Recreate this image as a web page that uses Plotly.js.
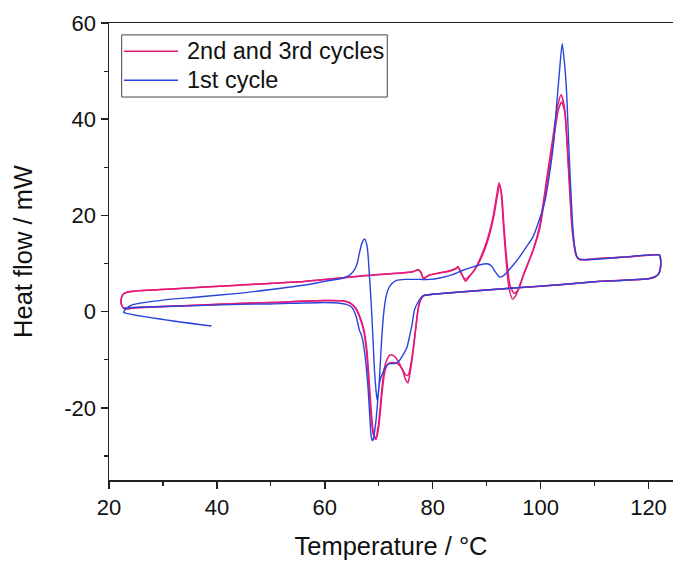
<!DOCTYPE html>
<html>
<head>
<meta charset="utf-8">
<script src="https://cdn.plot.ly/plotly-3.0.1.min.js"></script>
<style>html,body{margin:0;padding:0;background:#fff;}#chart{width:673px;height:563px;}</style>
</head>
<body>
<div id="chart"></div>
<script>
// 2nd cycle (heating on upper branch, cooling on lower branch)
const cycle2Temp = [22.3,22.3,22.7,23.5,31.5,44,55.3,60,67.7,76.3,77.3,77.8,78.3,78.8,79.4,83.1,84.3,84.7,85.3,85.8,86.1,86.8,87.8,88.7,89.9,91.2,91.9,92.3,92.7,93.1,93.5,94.1,94.8,95.5,96.7,98.6,99.8,101.1,102.3,103.2,103.8,104.4,105.1,105.7,106.1,106.6,107.3,110,115,121,122.0,122.2,122.2,121.9,121.3,120.2,110,103.5,95,90,80,78.5,78.0,77.6,77.3,76.9,76.5,76.0,75.6,75.4,75.0,74.5,73.6,72.8,72.1,71.5,71.0,70.5,69.9,69.4,69.0,68.6,68.2,67.7,67.2,66.4,65.6,64.6,63.5,60,50,44,35,25,22.9,22.3];
const cycle2Heat = [1.5,2.8,3.7,4.1,4.7,5.5,6.2,6.7,7.5,8.3,8.7,8.2,6.9,7.2,7.6,8.5,9.0,9.4,8.0,6.8,6.3,7.3,8.8,10.8,14.2,19.8,24.5,26.8,24.5,18,12.1,5.2,2.6,3.6,7.3,12.8,17.7,27.4,36.4,43.0,45.1,42.6,30.9,19.1,14.5,11.6,10.8,11.0,11.3,11.8,11.8,11.2,9.0,7.9,7.3,6.9,6.2,5.6,4.9,4.5,3.6,3.4,3.0,2.0,0.5,-3,-7,-11.4,-14.0,-14.8,-14.2,-12.5,-10.3,-9.2,-9.0,-10,-12,-17,-23.9,-26.3,-25.5,-22,-15.6,-8,-4,-1.0,0.8,1.8,2.2,2.3,1.9,1.7,1.3,0.8,0.6,1.5];

// 3rd cycle
const cycle3Temp = [22.3,22.3,22.7,23.5,31.5,44,55.3,60,67.7,76.3,77.3,77.8,78.3,78.8,79.4,83.1,84.3,84.7,85.3,85.8,86.2,86.9,87.9,88.8,90.0,91.3,92.0,92.4,92.8,93.2,93.6,94.3,95.1,95.8,96.9,98.7,99.9,101.2,102.4,103.3,103.9,104.5,105.2,105.8,106.2,106.7,107.4,110,115,121,122.0,122.2,122.2,121.9,121.3,120.2,110,103.5,95,90,80,78.5,78.0,77.6,77.3,76.9,76.5,76.0,75.6,75.3,74.9,74.4,73.6,72.9,72.2,71.6,71.1,70.6,70.0,69.5,69.1,68.7,68.3,67.8,67.3,66.5,65.7,64.7,63.5,60,50,44,35,25,22.9,22.3];
const cycle3Heat = [1.5,2.8,3.7,4.1,4.7,5.5,6.2,6.7,7.5,8.3,8.7,8.2,6.9,7.2,7.6,8.4,8.9,9.2,7.9,7.0,6.8,7.5,8.9,10.7,14.0,19.6,24.2,26.4,24.2,18,12.3,5.6,3.8,4.4,7.8,13.0,17.6,26.8,35.6,42.0,43.6,41.4,30.0,18.6,14.2,11.5,10.8,11.0,11.3,11.8,11.8,11.2,9.0,7.9,7.3,6.9,6.2,5.6,4.9,4.5,3.6,3.4,3.0,2.0,0.5,-3,-6.8,-10.6,-12.8,-13.3,-13.0,-12.0,-10.9,-10.6,-10.6,-11.0,-12.6,-17,-24.0,-26.6,-25.8,-22,-15.6,-8,-4,-1.0,0.8,1.8,2.2,2.3,1.9,1.7,1.3,0.8,0.6,1.5];

// 1st cycle (starts with cooling from 39 °C to 23 °C)
const cycle1Temp = [39.0,22.7,23.0,23.6,24.6,30,36,44,50,56.6,60,63.4,64.6,65.5,66.0,66.4,66.9,67.4,67.8,68.0,68.3,68.6,68.9,69.2,69.5,69.7,70.0,70.2,70.5,70.8,71.2,71.7,72.4,73.3,75,77.6,79.5,81.3,83.7,85.6,87.5,89.5,90.3,90.9,91.6,92.4,93.0,93.6,95,96.1,97.4,98.6,99.8,100.8,101.7,102.4,102.9,103.5,104.0,104.4,104.8,105.1,105.4,105.7,106.0,106.4,106.9,108.5,115,122.0,122.2,122.2,121.9,121.3,120.2,110,103.5,95,90,80,78.5,77.9,77.3,76.6,76.2,75.7,75.2,74.5,73.8,73.0,72.0,71.3,70.9,70.2,69.5,69.0,68.8,68.6,68.3,68.0,67.4,66.9,66.4,65.8,65.0,64.0,62.5,60,50,44,35,25,22.6];
const cycle1Heat = [-3.0,-0.1,0.4,1.0,1.5,2.4,3.0,3.8,4.6,5.6,6.3,7.0,7.6,8.7,10.0,12.1,14.3,15.1,13.8,12.0,7,1.7,-5,-12.1,-16.5,-18.4,-16,-12.5,-6.5,-1.7,2.2,4.5,5.8,6.5,6.7,6.7,6.7,7.0,7.7,8.6,9.3,9.9,9.9,9.5,8.3,7.2,7.4,8.0,9.8,11.4,13.5,15.6,19.2,23,29.0,35,42,50,55.7,52,46.0,38,30,23,17,12.8,11.1,10.8,11.3,11.8,11.2,9.0,7.9,7.3,6.9,6.2,5.6,4.9,4.5,3.6,3.4,3.0,2.0,0.3,-2.5,-5.2,-7.5,-9.0,-10.2,-10.8,-10.8,-11.4,-12.3,-14.5,-22.5,-26.5,-26.8,-26,-21,-15.6,-8.7,-5.3,-3.8,-1.0,0.9,1.5,1.8,1.9,1.6,1.5,1.2,0.9,0.7];

const seriesNames = ['2nd and 3rd cycles', '1st cycle'];
const xTickVals = [20, 40, 60, 80, 100, 120];
const xTickText = ['20', '40', '60', '80', '100', '120'];
const yTickVals = [-20, 0, 20, 40, 60];
const yTickText = ['-20', '0', '20', '40', '60'];

const RED = '#E41A78';
const BLUE = '#2B44DA';
const seriesColors = [RED, BLUE];

const traces = [
  {x: cycle2Temp, y: cycle2Heat, type: 'scatter', mode: 'lines', name: seriesNames[0],
   line: {color: RED, width: 1.5, shape: 'spline', smoothing: 0.6}, showlegend: false},
  {x: cycle3Temp, y: cycle3Heat, type: 'scatter', mode: 'lines', name: seriesNames[0],
   line: {color: RED, width: 1.5, shape: 'spline', smoothing: 0.6}, showlegend: false},
  {x: cycle1Temp, y: cycle1Heat, type: 'scatter', mode: 'lines', name: seriesNames[1],
   line: {color: BLUE, width: 1.4, shape: 'spline', smoothing: 0.6}, showlegend: false}
];

const FONT = 'Liberation Sans, Arial, sans-serif';

// Legend box drawn in paper coordinates
const legendBox = {x0: 0.0225, x1: 0.4934, y0: 0.838, y1: 0.974};
const legendRowsY = [0.938, 0.875];
const legendLineX = [0.0266, 0.1223];
const legendTextX = 0.1348;

const shapes = [
  {type: 'rect', xref: 'paper', yref: 'paper', x0: legendBox.x0, x1: legendBox.x1, y0: legendBox.y0, y1: legendBox.y1,
   line: {color: '#444', width: 1}, fillcolor: 'rgba(255,255,255,1)', layer: 'above'}
];
const annotations = [];
seriesNames.forEach((nm, i) => {
  shapes.push({type: 'line', xref: 'paper', yref: 'paper', x0: legendLineX[0], x1: legendLineX[1],
    y0: legendRowsY[i], y1: legendRowsY[i], line: {color: seriesColors[i], width: 1.5}, layer: 'above'});
  annotations.push({xref: 'paper', yref: 'paper', x: legendTextX, y: legendRowsY[i], xanchor: 'left', yanchor: 'middle',
    text: nm, showarrow: false, font: {family: FONT, size: 23.5, color: '#111'}});
});

const layout = {
  width: 673, height: 563,
  margin: {l: 109, r: 0, t: 23, b: 83},
  paper_bgcolor: '#ffffff', plot_bgcolor: '#ffffff',
  font: {family: FONT, color: '#111', size: 22},
  showlegend: false,
  shapes: shapes,
  annotations: annotations,
  xaxis: {
    range: [20, 124.54], showgrid: false, zeroline: false,
    showline: true, linecolor: '#222', linewidth: 1.5, mirror: true,
    ticks: 'outside', ticklen: 7, tickwidth: 1.5, tickcolor: '#222',
    tickvals: xTickVals, ticktext: xTickText,
    tickfont: {family: FONT, size: 22, color: '#111'},
    minor: {dtick: 10, tick0: 0, ticks: 'outside', ticklen: 4, tickwidth: 1.2, tickcolor: '#222', showgrid: false},
    title: {text: 'Temperature / °C', font: {family: FONT, size: 25.5, color: '#111'}, standoff: 18}
  },
  yaxis: {
    range: [-35, 60], showgrid: false, zeroline: false,
    showline: true, linecolor: '#222', linewidth: 1.5, mirror: false,
    ticks: 'outside', ticklen: 7, tickwidth: 1.5, tickcolor: '#222',
    tickvals: yTickVals, ticktext: yTickText,
    tickfont: {family: FONT, size: 22, color: '#111'},
    minor: {dtick: 10, tick0: 0, ticks: 'outside', ticklen: 4, tickwidth: 1.2, tickcolor: '#222', showgrid: false},
    title: {text: 'Heat flow / mW', font: {family: FONT, size: 25.5, color: '#111'}, standoff: 24}
  }
};

Plotly.newPlot('chart', traces, layout, {displayModeBar: false, staticPlot: true});
</script>
</body>
</html>
